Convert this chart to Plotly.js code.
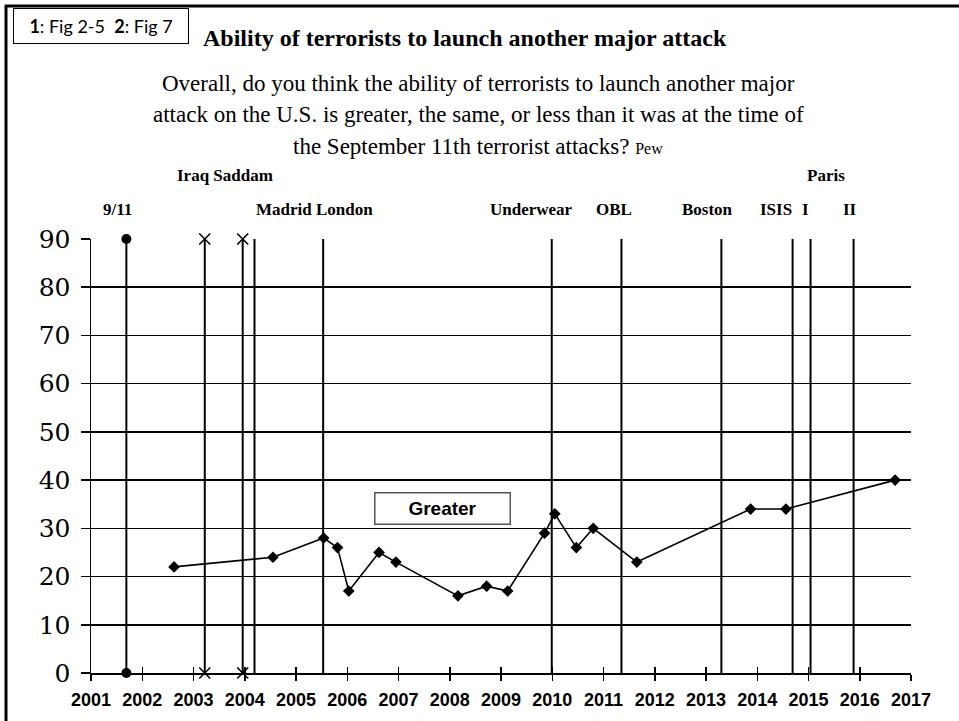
<!DOCTYPE html>
<html><head><meta charset="utf-8">
<script src="https://cdn.plot.ly/plotly-3.0.1.min.js"></script>
<style>html,body{margin:0;padding:0;background:#fff;}</style>
</head><body><div id="chart" style="width:959px;height:721px;"></div>
<script>
// ---- Data ----
// Pew survey: share saying ability of terrorists to launch another major attack is "Greater"
const surveyDates = [2002.62, 2004.55, 2005.54, 2005.81, 2006.03, 2006.62, 2006.95, 2008.16, 2008.72, 2009.13, 2009.85, 2010.05, 2010.47, 2010.80, 2011.65, 2013.87, 2014.56, 2016.69];
const greaterValues = [22, 24, 28, 26, 17, 25, 23, 16, 18, 17, 29, 33, 26, 30, 23, 34, 34, 40];
const seriesName = 'Greater';

// Events drawn as vertical lines
const eventNames   = ['9/11', 'Iraq', 'Saddam', 'Madrid', 'London', 'Underwear', 'OBL', 'Boston', 'ISIS', 'Paris I', 'Paris II'];
const eventDates   = [2001.69, 2003.22, 2003.96, 2004.19, 2005.53, 2009.99, 2011.35, 2013.30, 2014.69, 2015.04, 2015.88];
const eventSymbols = ['circle', 'x-thin-open', 'x-thin-open', null, null, null, null, null, null, null, null];

// Event labels above the plot
const labelTexts = ['9/11', 'Iraq Saddam', 'Madrid London', 'Underwear', 'OBL', 'Boston', 'ISIS', 'I', 'II', 'Paris'];
const labelYears = [2001.51, 2003.61, 2005.37, 2009.60, 2011.21, 2013.02, 2014.36, 2014.95, 2015.81, 2015.34];
const labelRows  = [2, 1, 2, 2, 2, 2, 2, 2, 2, 1];

const yearTicks = [2001, 2002, 2003, 2004, 2005, 2006, 2007, 2008, 2009, 2010, 2011, 2012, 2013, 2014, 2015, 2016, 2017];
const valueTicks = [0, 10, 20, 30, 40, 50, 60, 70, 80, 90];

const titleText = 'Ability of terrorists to launch another major attack';
const questionLines = [
  'Overall, do you think the ability of terrorists to launch another major',
  'attack on the U.S. is greater, the same, or less than it was at the time of',
  'the September 11th terrorist attacks? <span style="font-size:16px">Pew</span>'
];
const figNote = '<b>1</b>: Fig 2-5  <b>2</b>: Fig 7';

// ---- Layout geometry ----
const W = 959, H = 721;
const M = {l: 91, r: 48, t: 239, b: 48};
const PW = W - M.l - M.r, PH = H - M.t - M.b;
const px = x => (x - M.l) / PW;      // pixel x -> paper x
const py = y => (H - M.b - y) / PH;  // pixel y -> paper y

const serif = 'Liberation Serif, Times New Roman, serif';
const traces = [];

eventDates.forEach((d, i) => {
  const sym = eventSymbols[i];
  const tr = {
    type: 'scatter', xaxis: 'x2', yaxis: 'y',
    x: [d, d], y: [valueTicks[0], valueTicks[valueTicks.length - 1]],
    mode: sym ? 'lines+markers' : 'lines',
    name: eventNames[i],
    line: {color: '#000', width: 2},
    cliponaxis: false, hoverinfo: 'skip', showlegend: false
  };
  if (sym === 'circle') tr.marker = {symbol: 'circle', size: 10, color: '#000'};
  else if (sym) tr.marker = {symbol: sym, size: 11, color: '#000', line: {color: '#000', width: 1.6}};
  traces.push(tr);
});

traces.push({
  type: 'scatter', x: surveyDates, y: greaterValues, name: seriesName,
  mode: 'lines+markers',
  line: {color: '#000', width: 1.6},
  marker: {symbol: 'diamond', size: 9, color: '#000'},
  cliponaxis: false, showlegend: false
});

const annotations = [];
annotations.push({
  xref: 'paper', yref: 'paper', x: px(100.5), y: py(26), xanchor: 'center', yanchor: 'middle',
  text: figNote, showarrow: false, font: {family: 'Lato, Open Sans, sans-serif', size: 18, color: '#000'},
  bordercolor: '#000', borderwidth: 1, borderpad: 4, width: 166, height: 26, align: 'center', bgcolor: '#fff'
});
questionLines.forEach((t, i) => {
  annotations.push({
    xref: 'paper', yref: 'paper', x: px(478), y: py(84 + i * 31), xanchor: 'center', yanchor: 'middle',
    text: t, showarrow: false, font: {family: serif, size: 23, color: '#000'}
  });
});
labelTexts.forEach((t, i) => {
  annotations.push({
    xref: 'x', yref: 'paper', x: labelYears[i], y: py(labelRows[i] === 1 ? 175 : 209),
    xanchor: 'center', yanchor: 'middle', text: '<b>' + t + '</b>', showarrow: false,
    font: {family: serif, size: 17, color: '#000'}
  });
});
annotations.push({
  xref: 'paper', yref: 'paper', x: px(442), y: py(508.5), xanchor: 'center', yanchor: 'middle',
  text: '<b>' + seriesName + '</b>', showarrow: false,
  font: {family: 'Liberation Sans, Arial, sans-serif', size: 19, color: '#000'},
  bordercolor: '#555', borderwidth: 1.5, borderpad: 3, width: 128, height: 24, bgcolor: '#fff'
});

const layout = {
  width: W, height: H, margin: M,
  paper_bgcolor: '#fff', plot_bgcolor: '#fff',
  showlegend: false,
  title: {
    text: '<b>' + titleText + '</b>', x: 203 / W, xanchor: 'left', xref: 'container',
    y: 1 - 38 / H, yanchor: 'middle', yref: 'container',
    font: {family: serif, size: 24, color: '#000'}
  },
  xaxis: {
    range: [yearTicks[0], yearTicks[yearTicks.length - 1]],
    tickvals: yearTicks, ticktext: yearTicks.map(String),
    showgrid: false, zeroline: false, showline: true, linecolor: '#000', linewidth: 1.5,
    ticks: 'outside', ticklen: 6, tickwidth: 1.5, tickcolor: '#000',
    tickfont: {family: 'Liberation Sans, Arial, sans-serif', size: 18, color: '#000', weight: 'bold'},
    ticklabelstandoff: 4,
    fixedrange: true
  },
  xaxis2: {
    overlaying: 'x', side: 'bottom', anchor: 'y',
    range: [yearTicks[0], yearTicks[yearTicks.length - 1]],
    tickvals: yearTicks, showticklabels: false,
    showgrid: false, zeroline: false, showline: false,
    ticks: 'inside', ticklen: 6, tickwidth: 1.5, tickcolor: '#000',
    fixedrange: true
  },
  yaxis: {
    range: [valueTicks[0], valueTicks[valueTicks.length - 1]],
    tickvals: valueTicks, ticktext: valueTicks.map(String),
    showgrid: true, gridcolor: '#000', gridwidth: 1.5,
    zeroline: false, showline: true, linecolor: '#000', linewidth: 1.5,
    ticks: 'outside', ticklen: 9, tickwidth: 1.5, tickcolor: '#000',
    tickfont: {family: 'DejaVu Serif, serif', size: 25, color: '#000'},
    ticklabelstandoff: 5,
    fixedrange: true
  },
  shapes: [
    {type: 'line', xref: 'paper', yref: 'paper', x0: px(5), x1: px(959), y0: py(6), y1: py(6), line: {color: '#000', width: 3}},
    {type: 'line', xref: 'paper', yref: 'paper', x0: px(6), x1: px(6), y0: py(5), y1: py(721), line: {color: '#000', width: 3}}
  ],
  annotations: annotations
};

Plotly.newPlot('chart', traces, layout, {displayModeBar: false, staticPlot: true});
</script>
</body></html>
